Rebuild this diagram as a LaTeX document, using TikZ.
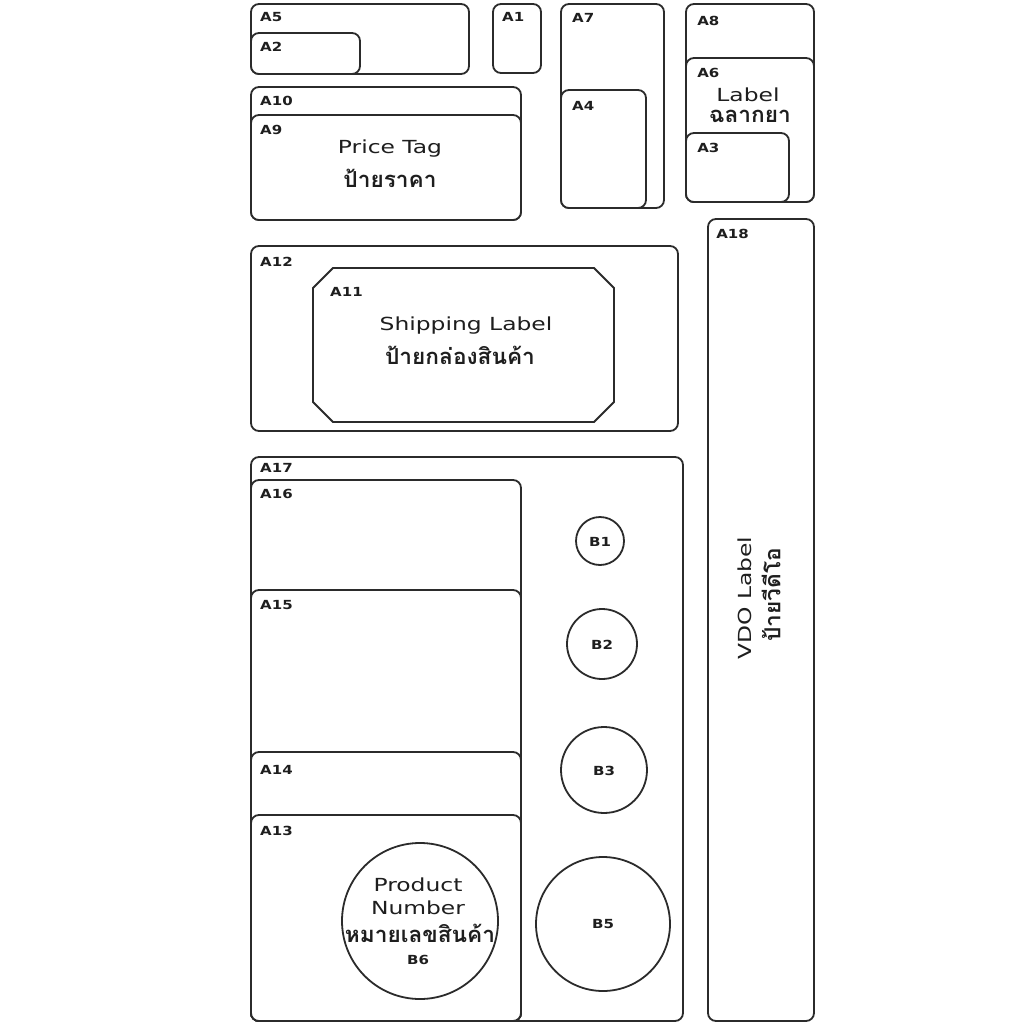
\documentclass[tikz,border=0pt]{standalone}
\usepackage{fontspec}
\setmainfont{DejaVu Sans}
\newfontfamily\thaifont[Script=Thai]{Loma}
\definecolor{ln}{HTML}{2b2b2b}
\definecolor{tx}{HTML}{1e1e1e}
\tikzset{
  box/.style={draw=ln, line width=1.8pt, rounded corners=8pt, fill=white},
  circ/.style={draw=ln, line width=1.8pt, fill=white},
  lab/.style={anchor=west, inner sep=0pt, text=tx, font=\bfseries\fontsize{12.5}{14}\selectfont, xscale=1.2},
  big/.style={inner sep=0pt, text=tx, font=\fontsize{18}{21}\selectfont, xscale=1.3},
  thai/.style={inner sep=0pt, text=tx, font=\thaifont\bfseries\fontsize{22}{25}\selectfont, xscale=1.03},
}
\begin{document}
\begin{tikzpicture}[x=1pt,y=-1pt]
\useasboundingbox (0,0) rectangle (1024,1024);
% top-left
\draw[box] (251,4) rectangle (469,74);
\node[lab] (A5) at (260,17) {A5};
\draw[box] (251,33) rectangle (360,74);
\node[lab] (A2) at (260,47) {A2};
\draw[box] (493,4) rectangle (541,73);
\node[lab] (A1) at (502,17) {A1};
% A7 / A4
\draw[box] (561,4) rectangle (664,208);
\node[lab] (A7) at (572,18) {A7};
\draw[box] (561,90) rectangle (646,208);
\node[lab] (A4) at (572,106) {A4};
% A8 / A6 / A3
\draw[box] (686,4) rectangle (814,202);
\node[lab] (A8) at (697,21) {A8};
\draw[box] (686,58) rectangle (814,202);
\node[lab] (A6) at (697,73) {A6};
\node[big] (lbl) at (748,95) {Label};
\node[thai] (lblth) at (750,116) {ฉลากยา};
\draw[box] (686,133) rectangle (789,202);
\node[lab] (A3) at (697,148) {A3};
% A10 / A9
\draw[box] (251,87) rectangle (521,220);
\node[lab] (A10) at (260,101) {A10};
\draw[box] (251,115) rectangle (521,220);
\node[lab] (A9) at (260,130) {A9};
\node[big] (pt) at (390,149) {Price Tag};
\node[thai] (ptth) at (390,178) {ป้ายราคา};
% A12 / A11
\draw[box] (251,246) rectangle (678,431);
\node[lab] (A12) at (260,262) {A12};
\draw[draw=ln, line width=1.8pt, fill=white]
  (333,268) -- (594,268) -- (614,288) -- (614,402) -- (594,422) -- (333,422) -- (313,402) -- (313,288) -- cycle;
\node[lab] (A11) at (330,292) {A11};
\node[big] (sl) at (466,326) {Shipping Label};
\node[thai] (slth) at (460,355) {ป้ายกล่องสินค้า};
% A18
\draw[box] (708,219) rectangle (814,1021);
\node[lab] (A18) at (716,234) {A18};
\node[rotate=90, big] (vdo) at (745,598) {VDO Label};
\node[rotate=90, thai] (vdoth) at (771,595) {ป้ายวีดีโอ};
% A17 group
\draw[box] (251,457) rectangle (683,1021);
\node[lab] (A17) at (260,468) {A17};
\draw[box] (251,480) rectangle (521,1021);
\node[lab] (A16) at (260,494) {A16};
\draw[box] (251,590) rectangle (521,1021);
\node[lab] (A15) at (260,605) {A15};
\draw[box] (251,752) rectangle (521,1021);
\node[lab] (A14) at (260,770) {A14};
\draw[box] (251,815) rectangle (521,1021);
\node[lab] (A13) at (260,831) {A13};
% circles
\draw[circ] (600,541) circle (24);
\node[lab, anchor=center] (B1) at (600,542) {B1};
\draw[circ] (602,644) circle (35);
\node[lab, anchor=center] (B2) at (602,645) {B2};
\draw[circ] (604,770) circle (43);
\node[lab, anchor=center] (B3) at (604,771) {B3};
\draw[circ] (603,924) circle (67);
\node[lab, anchor=center] (B5) at (603,924) {B5};
\draw[circ] (420,921) circle (78);
\node[big] (pn1) at (418,885) {Product};
\node[big] (pn2) at (418,908) {Number};
\node[thai] (pnth) at (420,933) {หมายเลขสินค้า};
\node[lab, anchor=center] (B6) at (418,960) {B6};
\end{tikzpicture}
\end{document}
